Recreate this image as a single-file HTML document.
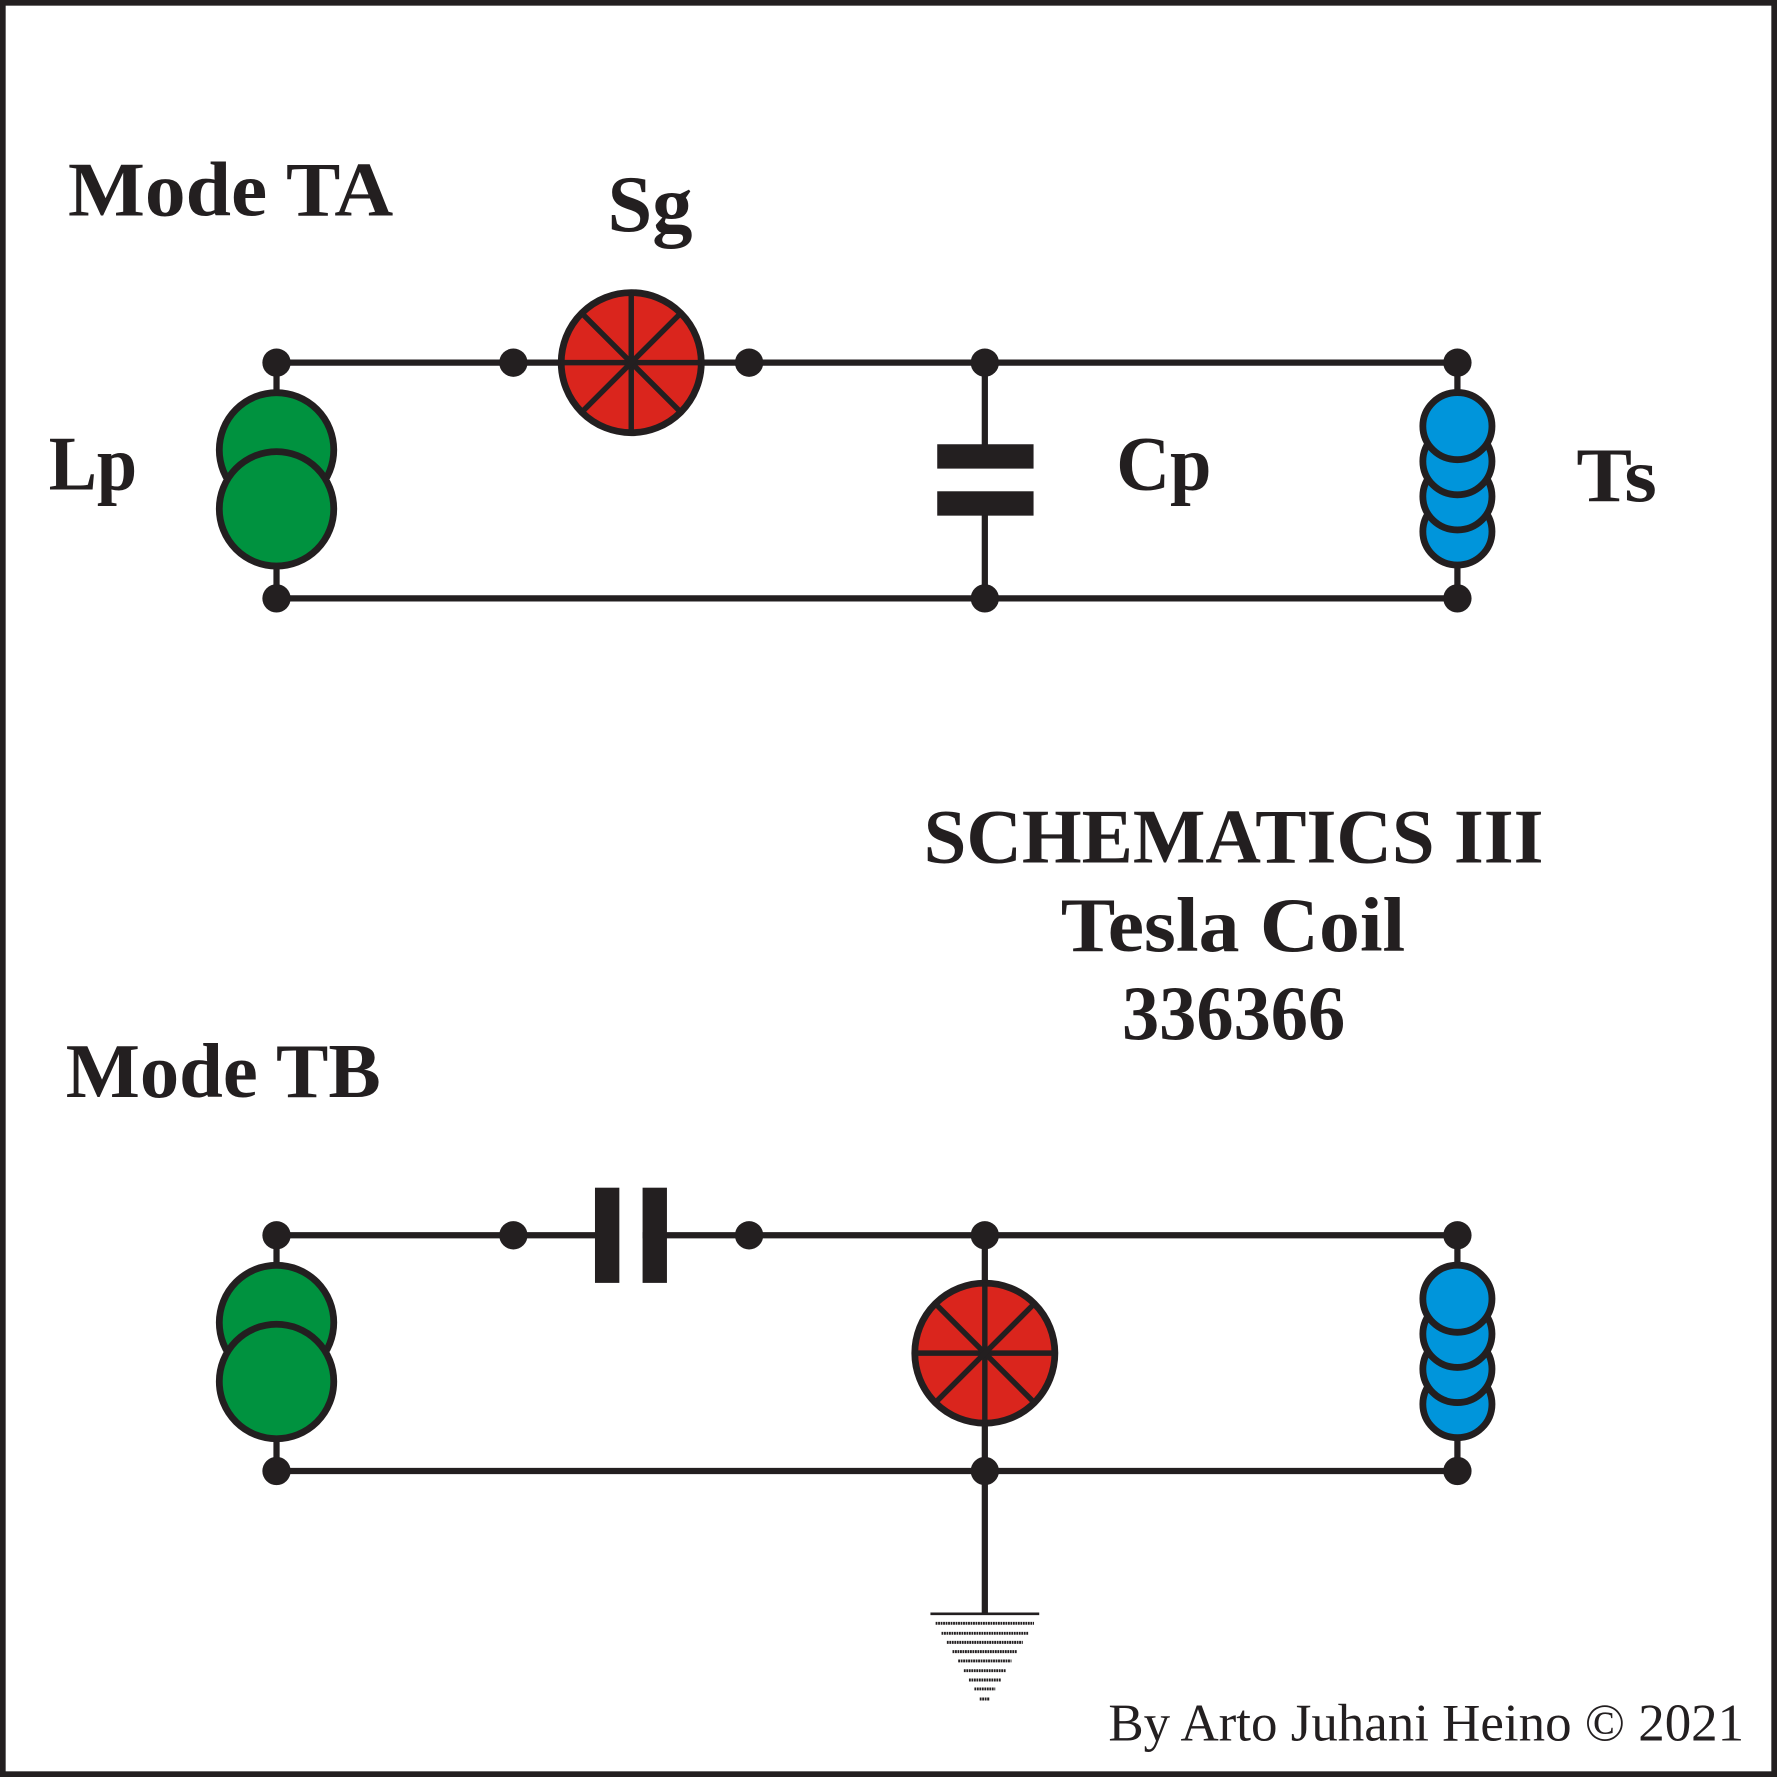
<!DOCTYPE html>
<html>
<head>
<meta charset="utf-8">
<style>
html,body{margin:0;padding:0;background:#fff;}
svg{display:block;}
text{font-family:"Liberation Serif",serif;fill:#231f20;}
.b{font-weight:bold;font-size:68px;}
.r{font-weight:normal;font-size:47px;}
</style>
</head>
<body>
<svg xmlns="http://www.w3.org/2000/svg" width="1777" height="1777" viewBox="0 0 1568 1568">
<rect x="0" y="0" width="1568" height="1568" fill="#fff"/>
<rect x="2.5" y="2.5" width="1563" height="1563" fill="none" stroke="#231f20" stroke-width="5"/>

<!-- ================= MODE TA ================= -->
<g stroke="#231f20" stroke-width="5.5" fill="none">
  <line x1="244" y1="320" x2="1286" y2="320"/>
  <line x1="244" y1="528" x2="1286" y2="528"/>
  <line x1="244" y1="320" x2="244" y2="346"/>
  <line x1="244" y1="500" x2="244" y2="528"/>
  <line x1="869" y1="320" x2="869" y2="395"/>
  <line x1="869" y1="450" x2="869" y2="528"/>
  <line x1="1286" y1="320" x2="1286" y2="346"/>
  <line x1="1286" y1="498" x2="1286" y2="528"/>
</g>
<rect x="827" y="392" width="85" height="21.5" fill="#231f20"/>
<rect x="827" y="433.5" width="85" height="21.5" fill="#231f20"/>
<g stroke="#231f20" stroke-width="6" fill="#00923f">
  <circle cx="244" cy="397" r="50.5"/>
  <circle cx="244" cy="449" r="50.5"/>
</g>
<g stroke="#231f20" stroke-width="6" fill="#0095db">
  <ellipse cx="1286" cy="469" rx="30.5" ry="29.6"/>
  <ellipse cx="1286" cy="438" rx="30.5" ry="29.6"/>
  <ellipse cx="1286" cy="407" rx="30.5" ry="29.6"/>
  <ellipse cx="1286" cy="376" rx="30.5" ry="29.6"/>
</g>
<g stroke="#231f20">
  <circle cx="557" cy="320" r="61.8" fill="#da251d" stroke-width="6"/>
  <g stroke-width="4.8">
    <line x1="495" y1="320" x2="619" y2="320"/>
    <line x1="557" y1="258" x2="557" y2="382"/>
    <line x1="513.2" y1="276.2" x2="600.8" y2="363.8"/>
    <line x1="600.8" y1="276.2" x2="513.2" y2="363.8"/>
  </g>
</g>
<g fill="#231f20">
  <circle cx="244" cy="320" r="12.5"/>
  <circle cx="244" cy="528" r="12.5"/>
  <circle cx="453" cy="320" r="12.5"/>
  <circle cx="661" cy="320" r="12.5"/>
  <circle cx="869" cy="320" r="12.5"/>
  <circle cx="869" cy="528" r="12.5"/>
  <circle cx="1286" cy="320" r="12.5"/>
  <circle cx="1286" cy="528" r="12.5"/>
</g>

<!-- ================= MODE TB ================= -->
<g stroke="#231f20" stroke-width="5.5" fill="none">
  <line x1="244" y1="1090" x2="1286" y2="1090"/>
  <line x1="244" y1="1298" x2="1286" y2="1298"/>
  <line x1="244" y1="1090" x2="244" y2="1116"/>
  <line x1="244" y1="1270" x2="244" y2="1298"/>
  <line x1="869" y1="1090" x2="869" y2="1424"/>
  <line x1="1286" y1="1090" x2="1286" y2="1116"/>
  <line x1="1286" y1="1268" x2="1286" y2="1298"/>
</g>
<rect x="546" y="1080" width="21" height="20" fill="#fff"/>
<rect x="525" y="1048" width="21.5" height="84" fill="#231f20"/>
<rect x="567" y="1048" width="21.5" height="84" fill="#231f20"/>
<g stroke="#231f20" stroke-width="6" fill="#00923f">
  <circle cx="244" cy="1167" r="50.5"/>
  <circle cx="244" cy="1219" r="50.5"/>
</g>
<g stroke="#231f20" stroke-width="6" fill="#0095db">
  <ellipse cx="1286" cy="1239" rx="30.5" ry="29.6"/>
  <ellipse cx="1286" cy="1208" rx="30.5" ry="29.6"/>
  <ellipse cx="1286" cy="1177" rx="30.5" ry="29.6"/>
  <ellipse cx="1286" cy="1146" rx="30.5" ry="29.6"/>
</g>
<g stroke="#231f20">
  <circle cx="869" cy="1194" r="61.8" fill="#da251d" stroke-width="6"/>
  <g stroke-width="4.8">
    <line x1="807" y1="1194" x2="931" y2="1194"/>
    <line x1="869" y1="1132" x2="869" y2="1256"/>
    <line x1="825.2" y1="1150.2" x2="912.8" y2="1237.8"/>
    <line x1="912.8" y1="1150.2" x2="825.2" y2="1237.8"/>
  </g>
</g>
<g fill="#231f20">
  <circle cx="244" cy="1090" r="12.5"/>
  <circle cx="244" cy="1298" r="12.5"/>
  <circle cx="453" cy="1090" r="12.5"/>
  <circle cx="661" cy="1090" r="12.5"/>
  <circle cx="869" cy="1090" r="12.5"/>
  <circle cx="869" cy="1298" r="12.5"/>
  <circle cx="1286" cy="1090" r="12.5"/>
  <circle cx="1286" cy="1298" r="12.5"/>
</g>
<!-- ground -->
<g stroke="#231f20">
  <line x1="821" y1="1424" x2="917" y2="1424" stroke-width="2.4"/>
  <g stroke-width="2.6" stroke-dasharray="1.6 0.6">
    <line x1="825.6" y1="1432.4" x2="912.4" y2="1432.4"/>
    <line x1="830.8" y1="1441.2" x2="907.2" y2="1441.2"/>
    <line x1="835.5" y1="1449.2" x2="902.5" y2="1449.2"/>
    <line x1="840.5" y1="1457.4" x2="897.5" y2="1457.4"/>
    <line x1="845.5" y1="1465.6" x2="892.5" y2="1465.6"/>
    <line x1="850.5" y1="1474.2" x2="887.5" y2="1474.2"/>
    <line x1="855" y1="1482.4" x2="883" y2="1482.4"/>
    <line x1="859.8" y1="1490.3" x2="878.2" y2="1490.3"/>
    <line x1="864.5" y1="1499.2" x2="873.5" y2="1499.2"/>
  </g>
</g>

<!-- ================= TEXT ================= -->
<text class="b" x="60" y="190" textLength="287" lengthAdjust="spacingAndGlyphs">Mode TA</text>
<text class="b" x="536" y="204" textLength="75" lengthAdjust="spacingAndGlyphs" style="font-size:71px">Sg</text>
<text class="b" x="43" y="432" textLength="78" lengthAdjust="spacingAndGlyphs">Lp</text>
<text class="b" x="985" y="432" textLength="84" lengthAdjust="spacingAndGlyphs">Cp</text>
<text class="b" x="1391" y="442" textLength="71" lengthAdjust="spacingAndGlyphs">Ts</text>
<text class="b" x="58" y="968" textLength="278" lengthAdjust="spacingAndGlyphs">Mode TB</text>

<text class="b" x="815" y="761" textLength="547" lengthAdjust="spacingAndGlyphs">SCHEMATICS III</text>
<text class="b" x="936" y="839" textLength="304" lengthAdjust="spacingAndGlyphs">Tesla Coil</text>
<text class="b" x="990" y="917" textLength="197" lengthAdjust="spacingAndGlyphs">336366</text>

<text class="r" x="978" y="1536" textLength="561" lengthAdjust="spacingAndGlyphs">By Arto Juhani Heino © 2021</text>
</svg>
</body>
</html>
